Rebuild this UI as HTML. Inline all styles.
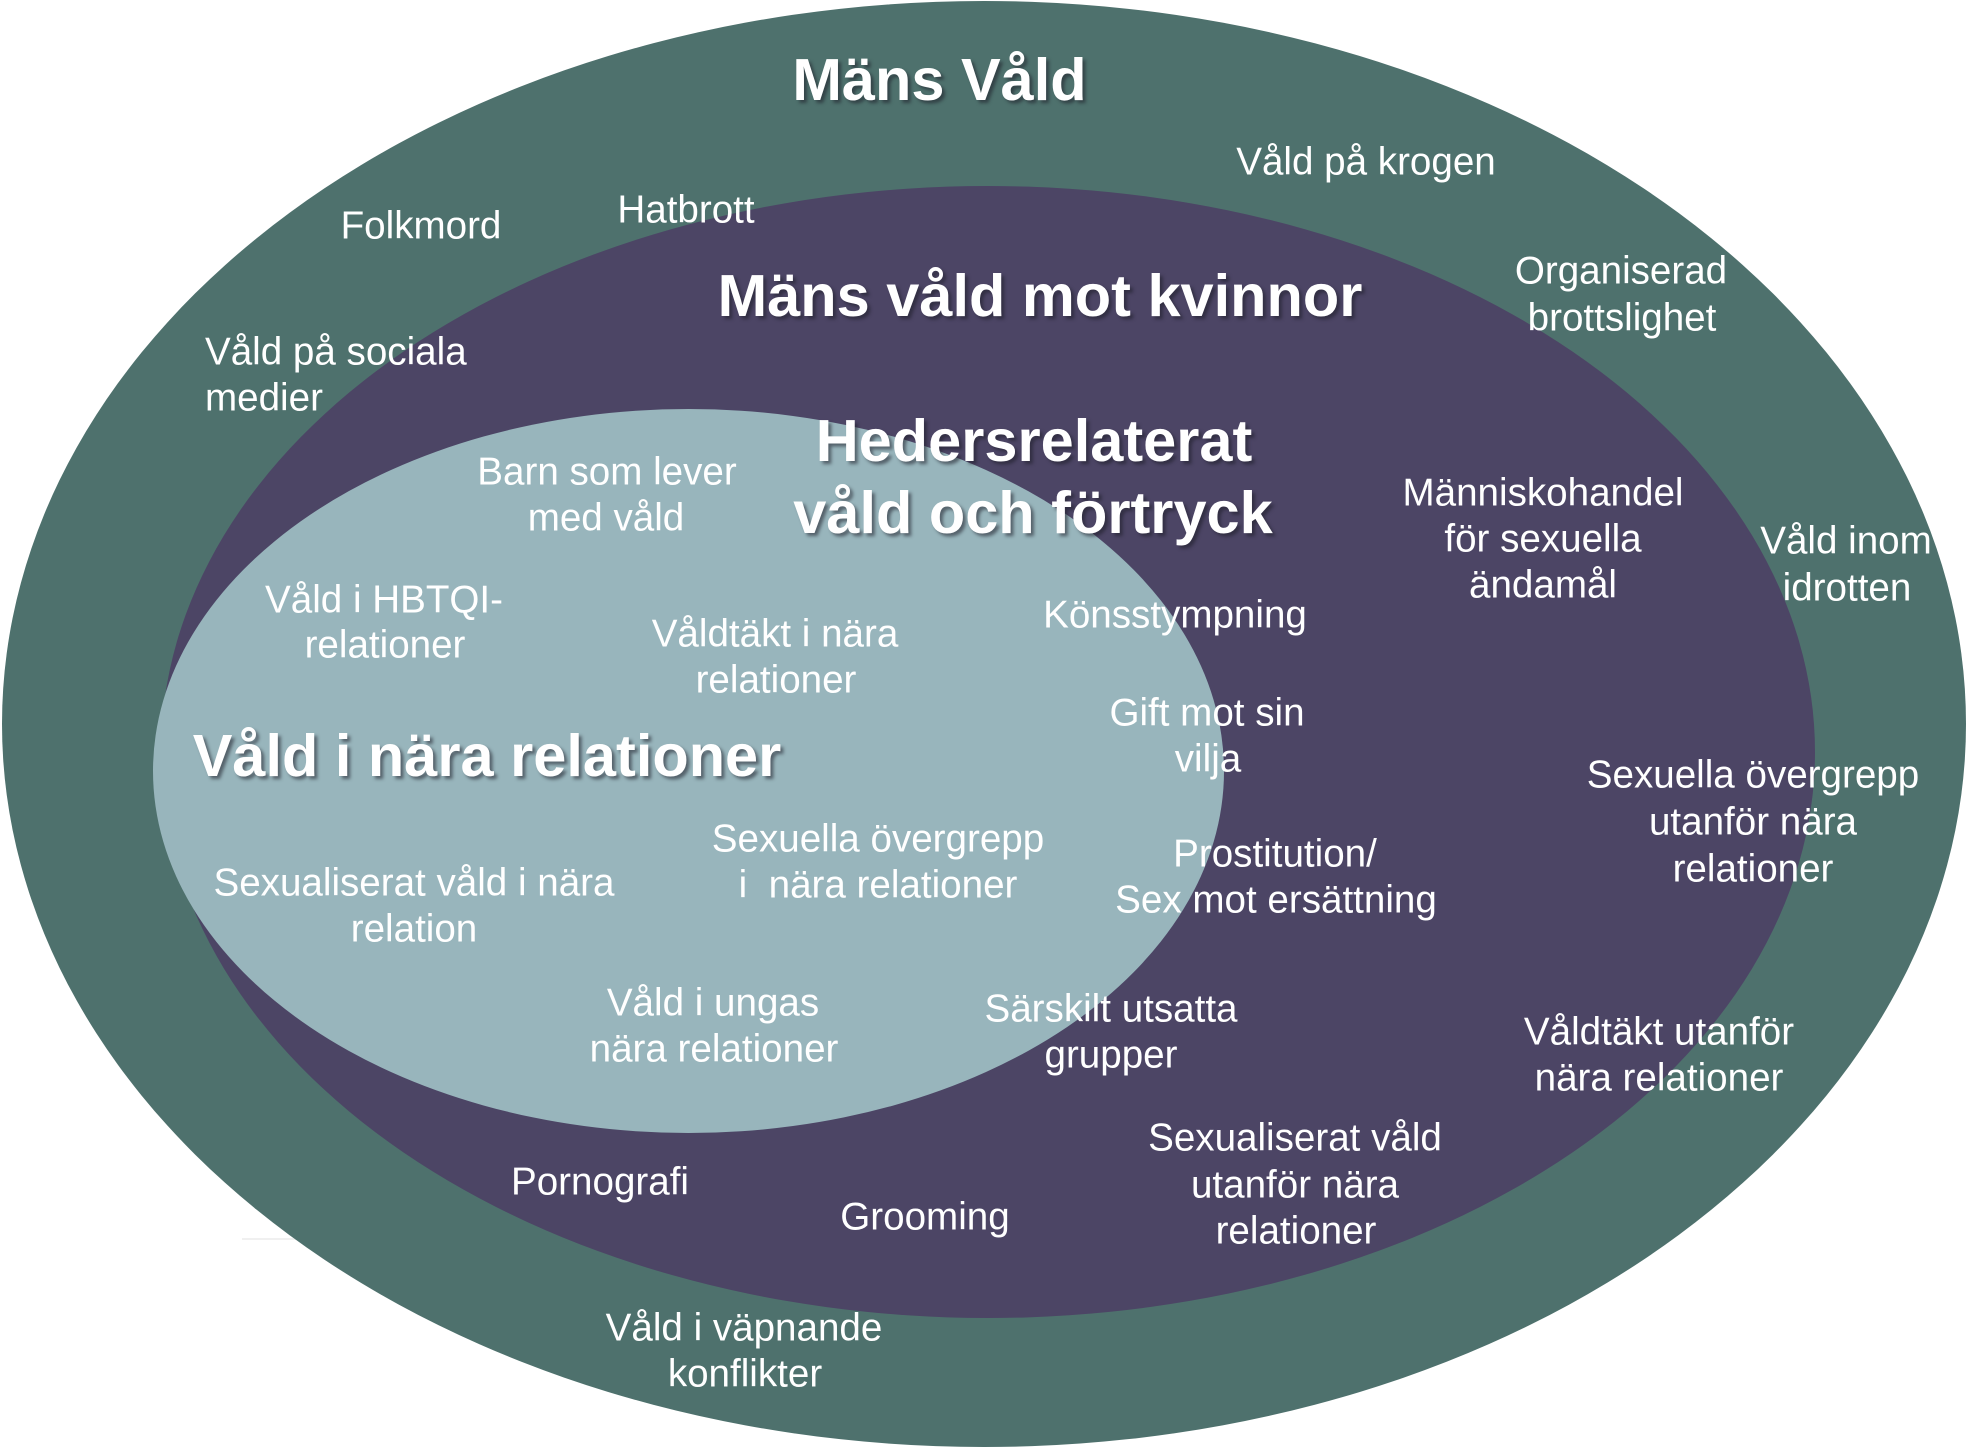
<!DOCTYPE html>
<html>
<head>
<meta charset="utf-8">
<style>
  html, body { margin: 0; padding: 0; background: #ffffff; }
  body { width: 1969px; height: 1449px; overflow: hidden; }
  svg { display: block; }
  .t { font-family: "Liberation Sans", Arial, sans-serif; font-size: 38.6px; fill: #ffffff; }
  .h { font-family: "Liberation Sans", Arial, sans-serif; font-size: 59.5px; font-weight: bold; fill: #ffffff;
       text-shadow: 3px 3px 3px rgba(30,30,40,0.55); }
</style>
</head>
<body>
<svg width="1969" height="1449" viewBox="0 0 1969 1449" xmlns="http://www.w3.org/2000/svg">
  <rect x="0" y="0" width="1969" height="1449" fill="#ffffff"/>
  <line x1="242" y1="1239" x2="300" y2="1239" stroke="#f0f0f0" stroke-width="2"/>
  <!-- Outer ellipse -->
  <ellipse cx="984" cy="724" rx="982" ry="723" fill="#4e716d"/>
  <!-- Purple ellipse -->
  <ellipse cx="988" cy="752" rx="827" ry="566" fill="#4c4565"/>
  <!-- Light blue ellipse -->
  <ellipse cx="688.5" cy="771" rx="535.5" ry="362" fill="#98b5bc"/>

  <!-- Headings -->
  <text class="h" x="939.5" y="100" text-anchor="middle">Mäns Våld</text>
  <text class="h" x="1040" y="316" text-anchor="middle">Mäns våld mot kvinnor</text>
  <text class="h" x="1034" y="461" text-anchor="middle">Hedersrelaterat</text>
  <text class="h" x="1033" y="533" text-anchor="middle">våld och förtryck</text>
  <text class="h" x="487" y="776" text-anchor="middle">Våld i nära relationer</text>

  <g transform="translate(0,1.5)">
  <!-- Outer ring labels -->
  <text class="t" x="421" y="237" text-anchor="middle">Folkmord</text>
  <text class="t" x="686" y="221" text-anchor="middle">Hatbrott</text>
  <text class="t" x="1366" y="173" text-anchor="middle">Våld på krogen</text>
  <text class="t" x="1621" y="282" text-anchor="middle">Organiserad</text>
  <text class="t" x="1622" y="329" text-anchor="middle">brottslighet</text>
  <text class="t" x="205" y="363">Våld på sociala</text>
  <text class="t" x="205" y="409">medier</text>
  <text class="t" x="1846" y="552" text-anchor="middle">Våld inom</text>
  <text class="t" x="1847" y="599" text-anchor="middle">idrotten</text>
  <text class="t" x="744" y="1339" text-anchor="middle">Våld i väpnande</text>
  <text class="t" x="745" y="1385" text-anchor="middle">konflikter</text>

  <!-- Purple ring labels -->
  <text class="t" x="1543" y="504" text-anchor="middle">Människohandel</text>
  <text class="t" x="1543" y="550" text-anchor="middle">för sexuella</text>
  <text class="t" x="1543" y="596" text-anchor="middle">ändamål</text>
  <text class="t" x="1175" y="626" text-anchor="middle">Könsstympning</text>
  <text class="t" x="1207" y="724" text-anchor="middle">Gift mot sin</text>
  <text class="t" x="1208" y="770" text-anchor="middle">vilja</text>
  <text class="t" x="1275" y="865" text-anchor="middle">Prostitution/</text>
  <text class="t" x="1276" y="911" text-anchor="middle">Sex mot ersättning</text>
  <text class="t" x="1753" y="786" text-anchor="middle">Sexuella övergrepp</text>
  <text class="t" x="1753" y="833" text-anchor="middle">utanför nära</text>
  <text class="t" x="1753" y="880" text-anchor="middle">relationer</text>
  <text class="t" x="1111" y="1020" text-anchor="middle">Särskilt utsatta</text>
  <text class="t" x="1111" y="1066" text-anchor="middle">grupper</text>
  <text class="t" x="1659" y="1043" text-anchor="middle">Våldtäkt utanför</text>
  <text class="t" x="1659" y="1089" text-anchor="middle">nära relationer</text>
  <text class="t" x="1295" y="1149" text-anchor="middle">Sexualiserat våld</text>
  <text class="t" x="1295" y="1196" text-anchor="middle">utanför nära</text>
  <text class="t" x="1296" y="1242" text-anchor="middle">relationer</text>
  <text class="t" x="600" y="1193" text-anchor="middle">Pornografi</text>
  <text class="t" x="925" y="1228" text-anchor="middle">Grooming</text>

  <!-- Inner ellipse labels -->
  <text class="t" x="607" y="483" text-anchor="middle">Barn som lever</text>
  <text class="t" x="606" y="529" text-anchor="middle">med våld</text>
  <text class="t" x="384" y="611" text-anchor="middle">Våld i HBTQI-</text>
  <text class="t" x="385" y="656" text-anchor="middle">relationer</text>
  <text class="t" x="775" y="645" text-anchor="middle">Våldtäkt i nära</text>
  <text class="t" x="776" y="691" text-anchor="middle">relationer</text>
  <text class="t" x="878" y="850" text-anchor="middle">Sexuella övergrepp</text>
  <text class="t" x="878" y="896" text-anchor="middle" xml:space="preserve">i  nära relationer</text>
  <text class="t" x="414" y="894" text-anchor="middle">Sexualiserat våld i nära</text>
  <text class="t" x="414" y="940" text-anchor="middle">relation</text>
  <text class="t" x="713" y="1014" text-anchor="middle">Våld i ungas</text>
  <text class="t" x="714" y="1060" text-anchor="middle">nära relationer</text>
  </g>
</svg>
</body>
</html>
